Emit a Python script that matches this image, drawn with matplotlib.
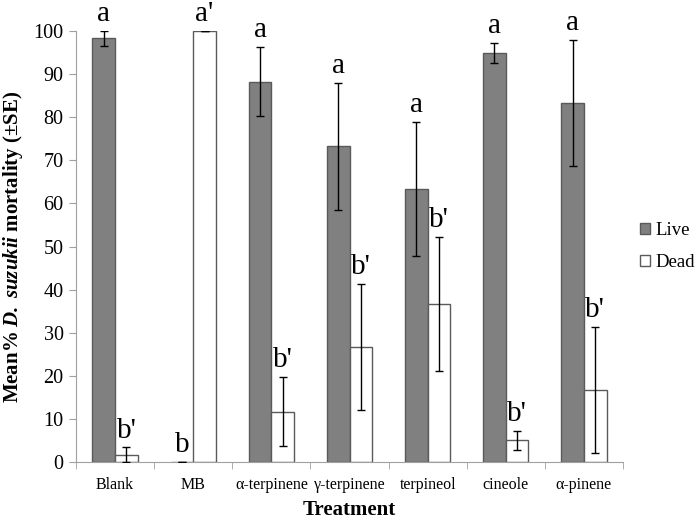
import numpy as np
import matplotlib
matplotlib.use("Agg")
import matplotlib.pyplot as plt

plt.rcParams.update({
    "font.family": "Liberation Serif",
    "mathtext.fontset": "custom",
    "mathtext.rm": "Liberation Serif",
    "mathtext.it": "Liberation Serif:italic",
    "mathtext.bf": "Liberation Serif:bold",
    "mathtext.bfit": "Liberation Serif:italic:bold",
})

treatments = ["Blank", "MB", "α-terpinene", "γ-terpinene", "terpineol", "cineole", "α-pinene"]
live = [98.3, 0.0, 88.3, 73.3, 63.3, 95.0, 83.3]
dead = [1.7, 100.0, 11.7, 26.7, 36.7, 5.0, 16.7]
live_se = [1.7, 0.0, 8.0, 14.7, 15.6, 2.3, 14.7]
dead_se = [1.7, 0.0, 8.0, 14.7, 15.6, 2.3, 14.7]
live_letters = ["a", "b", "a", "a", "a", "a", "a"]
dead_letters = ["b'", "a'", "b'", "b'", "b'", "b'", "b'"]

fig = plt.figure(figsize=(7.0, 5.19), dpi=100)
ax = fig.add_axes([0.1086, 0.1098, 0.7814, 0.8302])

x = np.arange(len(treatments))
w = 0.29
edge = "#5a5a5a"
ax.bar(x - w / 2, live, w, color="#808080", edgecolor=edge, linewidth=1.0, label="Live", zorder=2)
ax.bar(x + w / 2, dead, w, color="white", edgecolor=edge, linewidth=1.0, label="Dead", zorder=2)
ax.errorbar(x - w / 2, live, yerr=live_se, fmt="none", ecolor="black", elinewidth=1.0,
            capsize=3, capthick=1.0, zorder=3)
ax.errorbar(x + w / 2, dead, yerr=dead_se, fmt="none", ecolor="black", elinewidth=1.0,
            capsize=3, capthick=1.0, zorder=3)

for i in range(len(treatments)):
    ax.annotate(live_letters[i], (x[i] - w / 2, live[i] + live_se[i]), xytext=(0, 7),
                textcoords="offset points", ha="center", va="baseline", fontsize=21)
    ax.annotate(dead_letters[i], (x[i] + w / 2, dead[i] + dead_se[i]), xytext=(0, 7),
                textcoords="offset points", ha="center", va="baseline", fontsize=21)

ax.set_xlim(-0.5, len(treatments) - 0.5)
ax.set_ylim(0, 100)
ax.set_yticks(np.arange(0, 101, 10))
ax.set_xticks(x)
ax.set_xticklabels(treatments, fontsize=11.5)
ax.set_xticks(np.arange(-0.5, len(treatments)), minor=True)
ax.tick_params(axis="x", which="major", length=0, pad=11)
ax.tick_params(axis="x", which="minor", length=5, color="#a0a0a0")
ax.tick_params(axis="y", labelsize=14.5, length=5, color="#a0a0a0", pad=4)

for s in ["top", "right"]:
    ax.spines[s].set_visible(False)
for s in ["left", "bottom"]:
    ax.spines[s].set_color("#a0a0a0")

ax.set_xlabel("Treatment", fontsize=15, fontweight="bold", labelpad=5)
ax.set_ylabel(r"$\mathbf{Mean\%}\ \mathbfit{D.\ suzukii}\ \mathbf{mortality\ (\pm SE)}$",
              fontsize=15, labelpad=6)

ax.legend(loc="center left", bbox_to_anchor=(1.0, 0.5), frameon=False, fontsize=13.5,
          handlelength=0.55, handleheight=0.55, handletextpad=0.3, labelspacing=0.8)

fig.savefig("out.png", dpi=100)
